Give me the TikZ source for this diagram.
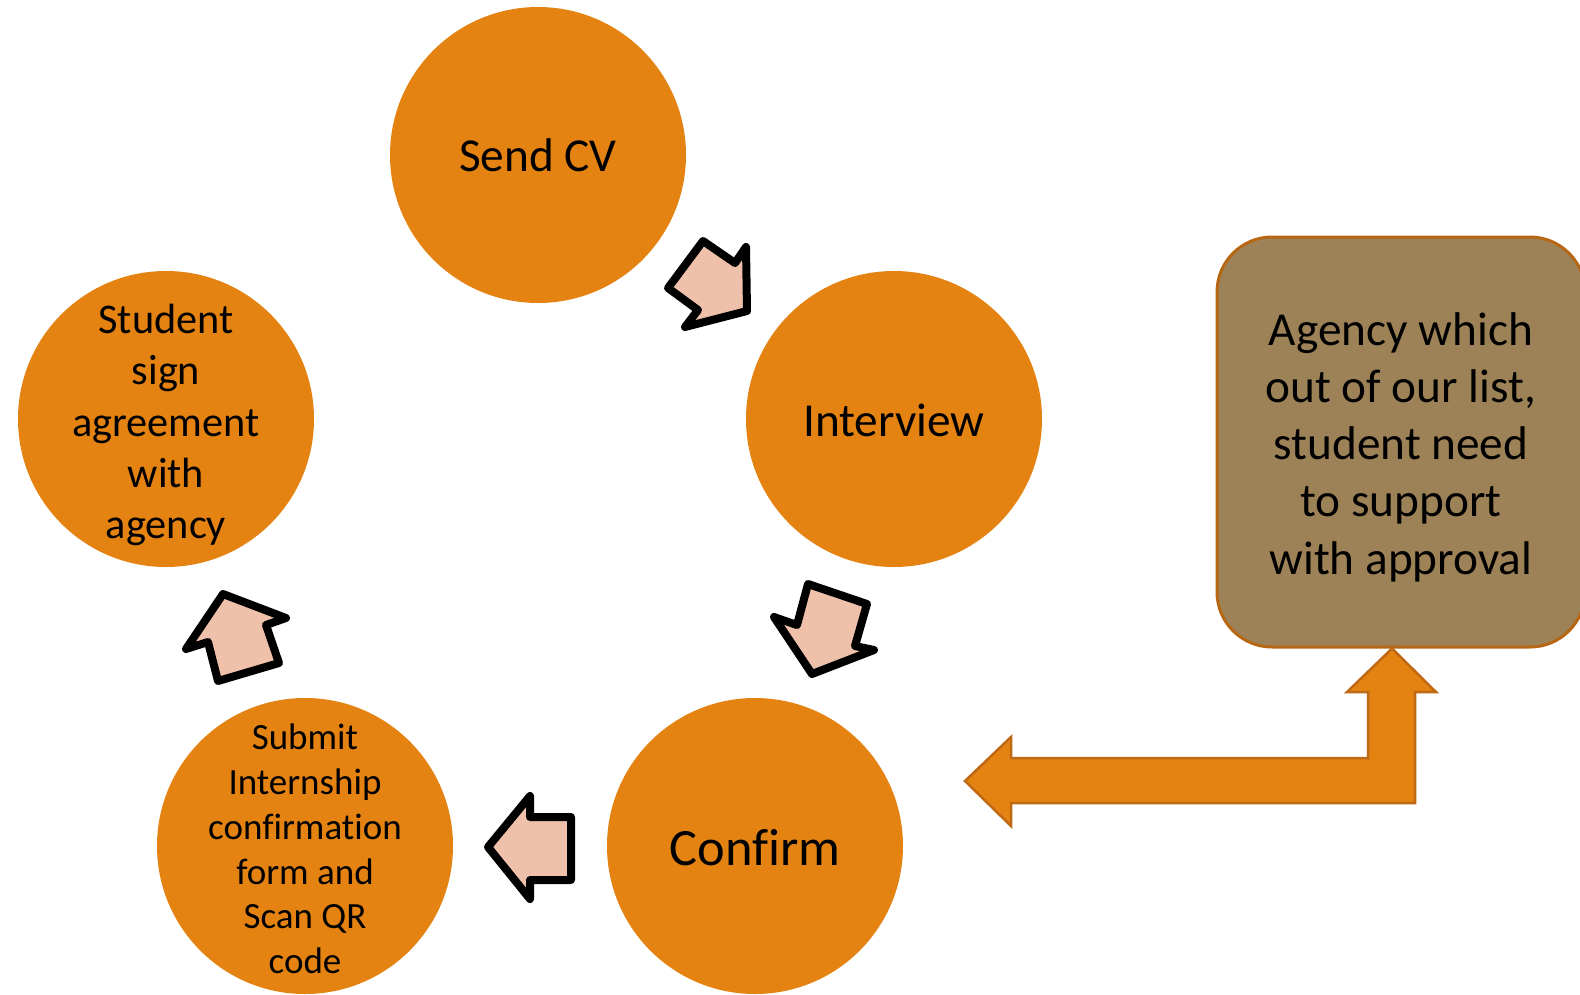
\documentclass[tikz,border=0pt]{standalone}
\usepackage{fontspec}
\setmainfont{Carlito}[Ligatures=NoCommon]
\definecolor{circorange}{RGB}{228,131,18}
\definecolor{peach}{RGB}{240,193,170}
\definecolor{boxbrown}{RGB}{157,130,87}
\definecolor{boxedge}{RGB}{183,103,20}
\definecolor{bigedge}{RGB}{190,105,20}
\tikzset{
  stepcircle/.style={circle, fill=circorange, minimum size=296pt, inner sep=0pt},
  steptext/.style={align=center, text=black, inner sep=0pt},
  blockarrow/.style={draw=black, fill=peach, line width=8pt, line join=round},
  bigarrow/.style={draw=bigedge, fill=circorange, line width=2.5pt, line join=miter},
}
\begin{document}
\begin{tikzpicture}[x=1pt,y=-1pt]
\useasboundingbox (0,0) rectangle (1580,994);
\clip (0,0) rectangle (1580,994);

% circles
\node[stepcircle] (cv) at (538,155) {};
\node[stepcircle] (iv) at (894,419) {};
\node[stepcircle] (cf) at (755,846) {};
\node[stepcircle] (sb) at (305,846) {};
\node[stepcircle] (st) at (166,419) {};

\node[steptext, font=\fontsize{47.3}{57.5}\selectfont] (cvt) at (cv.center) {Send CV};
\node[steptext, font=\fontsize{47.3}{57.5}\selectfont] (ivt) at ([yshift=-1pt]iv.center) {Interview};
\node[steptext, font=\fontsize{52.4}{64}\selectfont] (cft) at ([yshift=-2pt]cf.center) {Confirm};
\node[steptext, font=\fontsize{37}{44.8}\selectfont] (sbt) at ([yshift=-3pt]sb.center) {Submit\\Internship\\confirmation\\form and\\Scan QR\\code};
\node[steptext, font=\fontsize{42.3}{51.2}\selectfont] (stt) at ([yshift=-6pt]st.center) {Student\\sign\\agreement\\with\\agency};

% agency box
\node[draw=boxedge, line width=3pt, fill=boxbrown, rounded corners=55pt,
      minimum width=368pt, minimum height=410pt, inner sep=0pt] (ag) at (1401,442) {};
\node[steptext, font=\fontsize{47.3}{57.3}\selectfont] (agt) at ([yshift=-5pt]ag.center)
  {Agency which\\out of our list,\\student need\\to support\\with approval};

% block arrows between circles
\draw[blockarrow] (668,288) -- (703,241) -- (735,263) -- (746,247) -- (747,311) -- (685,327) -- (698,310) -- cycle;
\draw[blockarrow] (808,584) -- (867,604) -- (855,646) -- (874,650) -- (812,674) -- (774,617) -- (797,625) -- cycle;
\draw[blockarrow] (488,847) -- (530,796) -- (530,817) -- (571,817) -- (571,880) -- (530,880) -- (530,899) -- cycle;
\draw[blockarrow] (223,594) -- (286,618) -- (266,625) -- (279,663) -- (218,681) -- (208,642) -- (186,649) -- cycle;

% big bent arrow from agency box to Confirm
\coordinate (bigtip) at (965,781);
\coordinate (uptip) at ([xshift=-9pt]ag.south);
\draw[bigarrow] (bigtip) -- (1011,737) -- (1011,758) -- (1368,758) -- (1368,692) -- (1347,692)
   -- (uptip) -- (1436,692) -- (1415,692) -- (1415,803) -- (1011,803) -- (1011,826) -- cycle;
\end{tikzpicture}
\end{document}
